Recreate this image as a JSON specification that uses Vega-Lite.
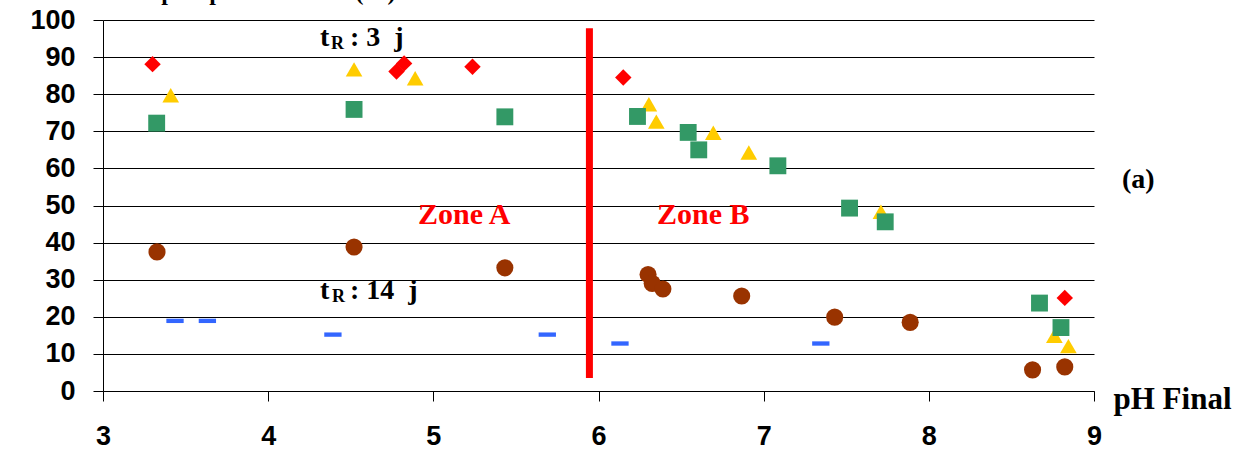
{
  "$schema": "https://vega.github.io/schema/vega-lite/v6.json",
  "width": 991,
  "height": 371,
  "autosize": {"type": "none"},
  "padding": {"left": 103, "top": 20, "right": 152, "bottom": 59},
  "background": "white",
  "config": {
    "view": {"stroke": null},
    "axis": {
      "domainColor": "black", "domainWidth": 1,
      "tickColor": "black", "tickSize": 10, "tickWidth": 1,
      "labelFont": "Liberation Sans", "labelFontWeight": "bold", "labelFontSize": 27,
      "labelColor": "black", "labelOverlap": false, "labelFlush": false,
      "titleFont": "Liberation Serif", "titleFontWeight": "bold", "titleColor": "black"
    },
    "axisX": {
      "grid": false, "labelPadding": 22,
      "titleFontSize": 31, "titleX": 1010, "titleY": 17, "titleAlign": "left", "titleBaseline": "alphabetic"
    },
    "axisY": {
      "grid": true, "gridColor": "black", "gridWidth": 1, "gridOpacity": 1,
      "labelPadding": 18,
      "titleAngle": 0, "titleX": 292, "titleY": -21, "titleAlign": "right", "titleBaseline": "alphabetic",
      "titleFontSize": 24
    }
  },
  "datasets": {
    "points": [
      {"series": "diamond", "pH": 3.30, "value": 88.1},
      {"series": "diamond", "pH": 4.777, "value": 86.1},
      {"series": "diamond", "pH": 4.823, "value": 88.3},
      {"series": "diamond", "pH": 5.237, "value": 87.4},
      {"series": "diamond", "pH": 6.15, "value": 84.5},
      {"series": "diamond", "pH": 8.823, "value": 25.1},
      {"series": "triangle", "pH": 3.41, "value": 79.7},
      {"series": "triangle", "pH": 4.52, "value": 86.7},
      {"series": "triangle", "pH": 4.89, "value": 84.3},
      {"series": "triangle", "pH": 6.305, "value": 77.3},
      {"series": "triangle", "pH": 6.35, "value": 72.6},
      {"series": "triangle", "pH": 6.695, "value": 69.6},
      {"series": "triangle", "pH": 6.91, "value": 64.3},
      {"series": "triangle", "pH": 7.71, "value": 48.3},
      {"series": "triangle", "pH": 8.76, "value": 14.9},
      {"series": "triangle", "pH": 8.845, "value": 12.1},
      {"series": "square", "pH": 3.325, "value": 72.2},
      {"series": "square", "pH": 4.52, "value": 75.9},
      {"series": "square", "pH": 5.433, "value": 73.9},
      {"series": "square", "pH": 6.236, "value": 74.0},
      {"series": "square", "pH": 6.543, "value": 69.7},
      {"series": "square", "pH": 6.607, "value": 65.0},
      {"series": "square", "pH": 7.086, "value": 60.7},
      {"series": "square", "pH": 7.52, "value": 49.3},
      {"series": "square", "pH": 7.736, "value": 45.6},
      {"series": "square", "pH": 8.67, "value": 23.7},
      {"series": "square", "pH": 8.80, "value": 17.1},
      {"series": "circle", "pH": 3.327, "value": 37.5},
      {"series": "circle", "pH": 4.52, "value": 38.8},
      {"series": "circle", "pH": 5.433, "value": 33.2},
      {"series": "circle", "pH": 6.30, "value": 31.4},
      {"series": "circle", "pH": 6.325, "value": 29.0},
      {"series": "circle", "pH": 6.39, "value": 27.5},
      {"series": "circle", "pH": 6.867, "value": 25.6},
      {"series": "circle", "pH": 7.43, "value": 19.9},
      {"series": "circle", "pH": 7.887, "value": 18.5},
      {"series": "circle", "pH": 8.628, "value": 5.7},
      {"series": "circle", "pH": 8.823, "value": 6.5},
      {"series": "dash", "pH": 3.436, "value": 18.9},
      {"series": "dash", "pH": 3.632, "value": 18.9},
      {"series": "dash", "pH": 4.392, "value": 15.2},
      {"series": "dash", "pH": 5.69, "value": 15.2},
      {"series": "dash", "pH": 6.13, "value": 12.8},
      {"series": "dash", "pH": 7.346, "value": 12.8}
    ]
  },
  "layer": [
    {
      "data": {"name": "points"},
      "mark": {"type": "point", "filled": true, "opacity": 1, "strokeWidth": 0},
      "encoding": {
        "x": {
          "field": "pH", "type": "quantitative",
          "scale": {"domain": [3, 9], "nice": false, "zero": false},
          "axis": {"values": [3, 4, 5, 6, 7, 8, 9], "format": "d", "title": "pH Final"}
        },
        "y": {
          "field": "value", "type": "quantitative",
          "scale": {"domain": [0, 100], "nice": false},
          "axis": {"values": [0, 10, 20, 30, 40, 50, 60, 70, 80, 90, 100], "format": "d", "title": "Taux de phosphore éliminé (%)"}
        },
        "shape": {
          "field": "series", "type": "nominal",
          "scale": {"domain": ["diamond", "triangle", "square", "circle", "dash"],
                    "range": ["diamond", "triangle-up", "square", "circle", "M-1,-0.25H1V0.25H-1Z"]},
          "legend": null
        },
        "color": {
          "field": "series", "type": "nominal",
          "scale": {"domain": ["diamond", "triangle", "square", "circle", "dash"],
                    "range": ["#FF0000", "#FFCC00", "#339966", "#993300", "#3366FF"]},
          "legend": null
        },
        "size": {
          "field": "series", "type": "nominal",
          "scale": {"domain": ["diamond", "triangle", "square", "circle", "dash"],
                    "range": [270, 300, 256, 201, 256]},
          "legend": null
        }
      }
    },
    {
      "data": {"values": [{}]},
      "mark": {"type": "rule", "color": "#FF0000", "strokeWidth": 7},
      "encoding": {
        "x": {"datum": 5.945, "type": "quantitative", "axis": {"values": [3, 4, 5, 6, 7, 8, 9], "format": "d", "title": "pH Final"}},
        "y": {"datum": 3.5, "type": "quantitative", "axis": {"values": [0, 10, 20, 30, 40, 50, 60, 70, 80, 90, 100], "format": "d", "title": "Taux de phosphore éliminé (%)"}},
        "y2": {"datum": 97.8}
      }
    },
    {
      "data": {"values": [{}]},
      "mark": {"type": "text", "text": "t", "font": "Liberation Serif", "fontWeight": "bold", "fontSize": 28, "color": "black", "align": "left", "baseline": "alphabetic"},
      "encoding": {
        "x": {"datum": 4.314, "type": "quantitative", "axis": {"values": [3, 4, 5, 6, 7, 8, 9], "format": "d", "title": "pH Final"}},
        "y": {"datum": 93.0, "type": "quantitative", "axis": {"values": [0, 10, 20, 30, 40, 50, 60, 70, 80, 90, 100], "format": "d", "title": "Taux de phosphore éliminé (%)"}}
      }
    },
    {
      "data": {"values": [{}]},
      "mark": {"type": "text", "text": "R", "font": "Liberation Serif", "fontWeight": "bold", "fontSize": 18, "color": "black", "align": "left", "baseline": "alphabetic"},
      "encoding": {
        "x": {"datum": 4.38, "type": "quantitative", "axis": {"values": [3, 4, 5, 6, 7, 8, 9], "format": "d", "title": "pH Final"}},
        "y": {"datum": 92.2, "type": "quantitative", "axis": {"values": [0, 10, 20, 30, 40, 50, 60, 70, 80, 90, 100], "format": "d", "title": "Taux de phosphore éliminé (%)"}}
      }
    },
    {
      "data": {"values": [{}]},
      "mark": {"type": "text", "text": ": 3\u00a0\u00a0j", "font": "Liberation Serif", "fontWeight": "bold", "fontSize": 28, "color": "black", "align": "left", "baseline": "alphabetic"},
      "encoding": {
        "x": {"datum": 4.495, "type": "quantitative", "axis": {"values": [3, 4, 5, 6, 7, 8, 9], "format": "d", "title": "pH Final"}},
        "y": {"datum": 93.0, "type": "quantitative", "axis": {"values": [0, 10, 20, 30, 40, 50, 60, 70, 80, 90, 100], "format": "d", "title": "Taux de phosphore éliminé (%)"}}
      }
    },
    {
      "data": {"values": [{}]},
      "mark": {"type": "text", "text": "t", "font": "Liberation Serif", "fontWeight": "bold", "fontSize": 28, "color": "black", "align": "left", "baseline": "alphabetic"},
      "encoding": {
        "x": {"datum": 4.314, "type": "quantitative", "axis": {"values": [3, 4, 5, 6, 7, 8, 9], "format": "d", "title": "pH Final"}},
        "y": {"datum": 24.8, "type": "quantitative", "axis": {"values": [0, 10, 20, 30, 40, 50, 60, 70, 80, 90, 100], "format": "d", "title": "Taux de phosphore éliminé (%)"}}
      }
    },
    {
      "data": {"values": [{}]},
      "mark": {"type": "text", "text": "R", "font": "Liberation Serif", "fontWeight": "bold", "fontSize": 18, "color": "black", "align": "left", "baseline": "alphabetic"},
      "encoding": {
        "x": {"datum": 4.387, "type": "quantitative", "axis": {"values": [3, 4, 5, 6, 7, 8, 9], "format": "d", "title": "pH Final"}},
        "y": {"datum": 24.1, "type": "quantitative", "axis": {"values": [0, 10, 20, 30, 40, 50, 60, 70, 80, 90, 100], "format": "d", "title": "Taux de phosphore éliminé (%)"}}
      }
    },
    {
      "data": {"values": [{}]},
      "mark": {"type": "text", "text": ": 14\u00a0\u00a0j", "font": "Liberation Serif", "fontWeight": "bold", "fontSize": 28, "color": "black", "align": "left", "baseline": "alphabetic"},
      "encoding": {
        "x": {"datum": 4.495, "type": "quantitative", "axis": {"values": [3, 4, 5, 6, 7, 8, 9], "format": "d", "title": "pH Final"}},
        "y": {"datum": 24.8, "type": "quantitative", "axis": {"values": [0, 10, 20, 30, 40, 50, 60, 70, 80, 90, 100], "format": "d", "title": "Taux de phosphore éliminé (%)"}}
      }
    },
    {
      "data": {"values": [{}]},
      "mark": {"type": "text", "text": "Zone A", "font": "Liberation Serif", "fontWeight": "bold", "fontSize": 30, "color": "#FF0000", "align": "left", "baseline": "alphabetic"},
      "encoding": {
        "x": {"datum": 4.907, "type": "quantitative", "axis": {"values": [3, 4, 5, 6, 7, 8, 9], "format": "d", "title": "pH Final"}},
        "y": {"datum": 45.0, "type": "quantitative", "axis": {"values": [0, 10, 20, 30, 40, 50, 60, 70, 80, 90, 100], "format": "d", "title": "Taux de phosphore éliminé (%)"}}
      }
    },
    {
      "data": {"values": [{}]},
      "mark": {"type": "text", "text": "Zone B", "font": "Liberation Serif", "fontWeight": "bold", "fontSize": 30, "color": "#FF0000", "align": "left", "baseline": "alphabetic"},
      "encoding": {
        "x": {"datum": 6.354, "type": "quantitative", "axis": {"values": [3, 4, 5, 6, 7, 8, 9], "format": "d", "title": "pH Final"}},
        "y": {"datum": 45.0, "type": "quantitative", "axis": {"values": [0, 10, 20, 30, 40, 50, 60, 70, 80, 90, 100], "format": "d", "title": "Taux de phosphore éliminé (%)"}}
      }
    },
    {
      "data": {"values": [{}]},
      "mark": {"type": "text", "text": "(a)", "font": "Liberation Serif", "fontWeight": "bold", "fontSize": 28, "color": "black", "align": "left", "baseline": "alphabetic"},
      "encoding": {
        "x": {"datum": 9.169, "type": "quantitative", "axis": {"values": [3, 4, 5, 6, 7, 8, 9], "format": "d", "title": "pH Final"}},
        "y": {"datum": 54.7, "type": "quantitative", "axis": {"values": [0, 10, 20, 30, 40, 50, 60, 70, 80, 90, 100], "format": "d", "title": "Taux de phosphore éliminé (%)"}}
      }
    }
  ]
}
